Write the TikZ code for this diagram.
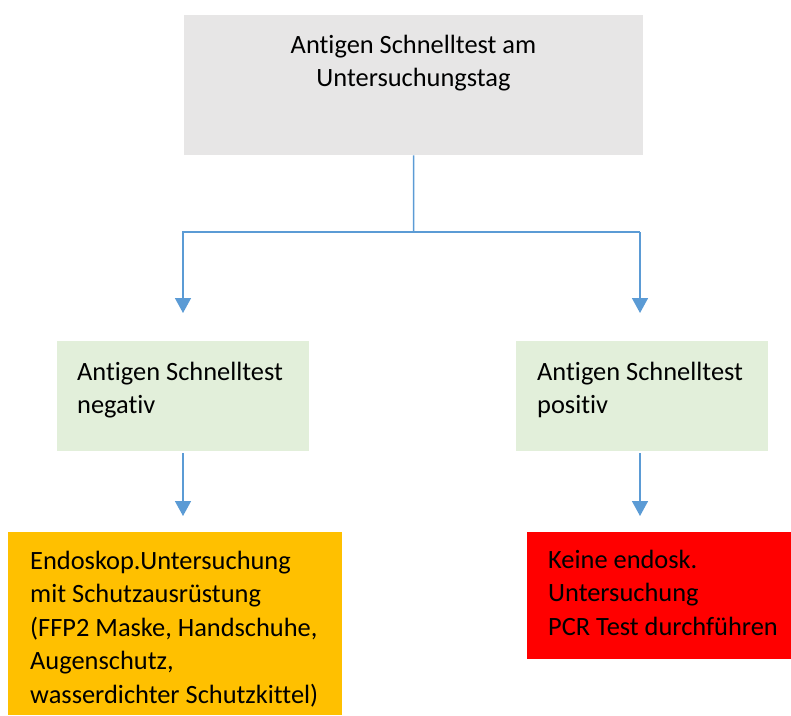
\documentclass[tikz,border=0pt]{standalone}
\usepackage{fontspec}
\setmainfont{Carlito}[Ligatures=NoCommon]
\usetikzlibrary{arrows.meta}
\definecolor{boxgray}{HTML}{E7E6E6}
\definecolor{boxgreen}{HTML}{E2EFDA}
\definecolor{boxorange}{HTML}{FFC000}
\definecolor{boxred}{HTML}{FF0000}
\definecolor{linkblue}{HTML}{5B9BD5}
\tikzset{
  box/.style={draw=none, inner sep=0pt, anchor=north west},
  txt/.style={inner sep=0pt, anchor=north west, align=left, font=\fontsize{26.4}{33.5}\selectfont, text=black},
  link/.style={draw=linkblue, line width=1.5pt},
  arr/.style={link, -{Triangle[width=16pt,length=15pt]}},
}
\newcommand{\st}{\rule{0pt}{20pt}}
\begin{document}
\begin{tikzpicture}[x=1pt,y=-1pt]
\useasboundingbox (0,0) rectangle (791,715);
% boxes
\node[box, fill=boxgray, minimum width=459pt, minimum height=140pt] (top) at (184,15) {};
\node[box, fill=boxgreen, minimum width=252pt, minimum height=110pt] (gl) at (57,341) {};
\node[box, fill=boxgreen, minimum width=252pt, minimum height=110pt] (gr) at (516,341) {};
\node[box, fill=boxorange, minimum width=334pt, minimum height=183pt] (ob) at (8,532) {};
\node[box, fill=boxred, minimum width=264pt, minimum height=127pt] (rb) at (527,532) {};
% texts
\node[txt, anchor=north, align=center] (ttop) at (413.5,33) {\st Antigen Schnelltest am\\Untersuchungstag};
\node[txt] (tgl) at (77,360) {\st Antigen Schnelltest\\negativ};
\node[txt] (tgr) at (537,360) {\st Antigen Schnelltest\\positiv};
\node[txt] (tob) at (30,549) {\st Endoskop.Untersuchung\\mit Schutzausrüstung\\(FFP2 Maske, Handschuhe,\\Augenschutz,\\wasserdichter Schutzkittel)};
\node[txt] (trb) at (548,548) {\st Keine endosk.\\Untersuchung\\PCR Test durchführen};
% connectors
\coordinate (j) at (413.5,232);
\coordinate (jl) at (182,232);
\coordinate (jr) at (640,232);
\coordinate (al) at (183,232);
\draw[link] (top.south) -- (j);
\draw[link] (jl) -- (jr);
\draw[arr, shorten >=28pt] (al) -- (al |- gl.north);
\draw[arr, shorten >=28pt] (jr) -- (jr |- gr.north);
\draw[arr, shorten <=2pt, shorten >=16pt] (al |- gl.south) -- (al |- ob.north);
\draw[arr, shorten <=2pt, shorten >=16pt] (jr |- gr.south) -- (jr |- rb.north);
\end{tikzpicture}
\end{document}
